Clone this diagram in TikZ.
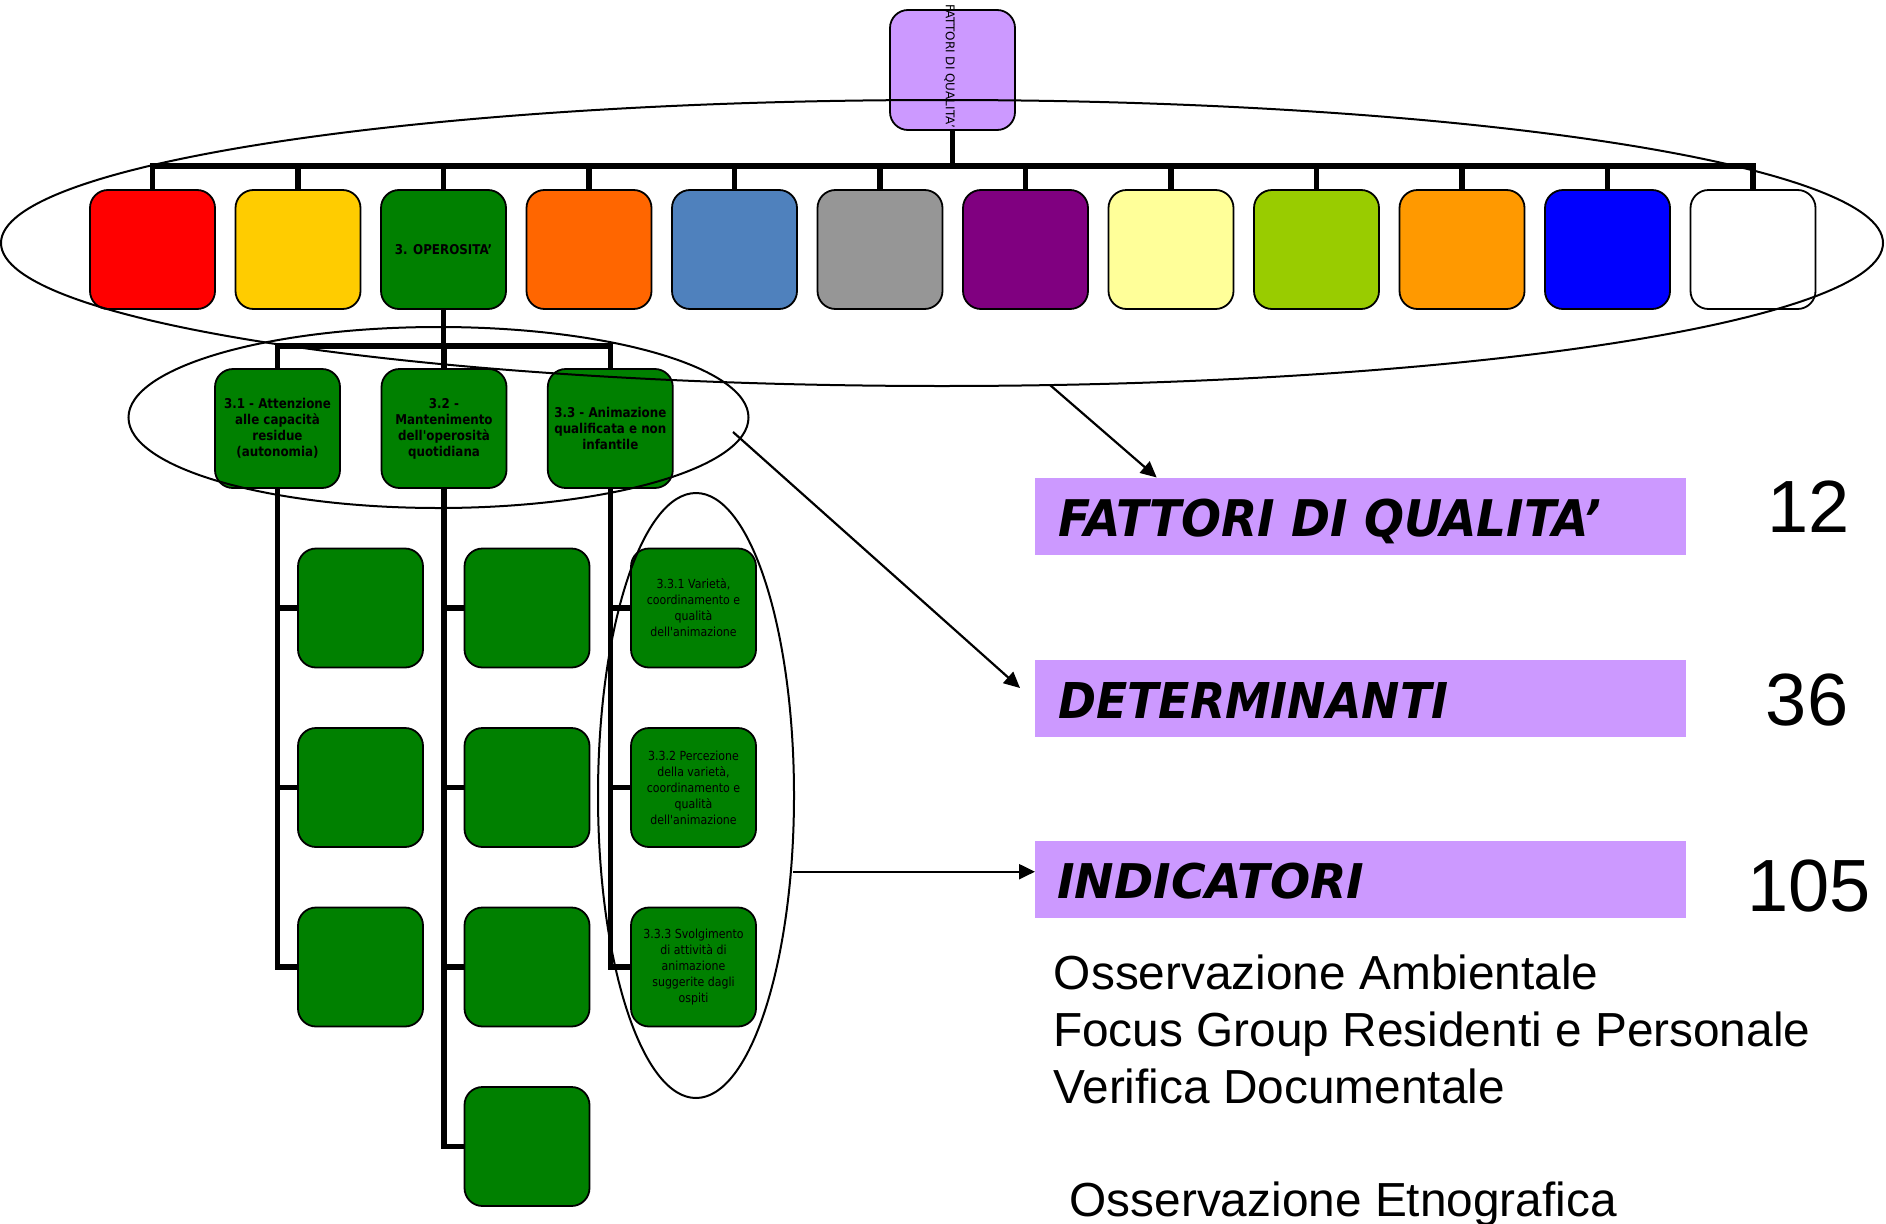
\documentclass[tikz,border=0pt]{standalone}
\usepackage{fontspec}
\usepackage{graphicx}
\usetikzlibrary{shapes.geometric,arrows.meta}
\newfontfamily\tahf[FakeStretch=0.88]{DejaVu Sans}
\newfontfamily\verdf{DejaVu Sans}
\newfontfamily\arialf{Liberation Sans}
\definecolor{cRed}{HTML}{FF0000}
\definecolor{cYellow}{HTML}{FFCC00}
\definecolor{cGreen}{HTML}{008000}
\definecolor{cOrange}{HTML}{FF6600}
\definecolor{cSteel}{HTML}{4F81BD}
\definecolor{cGray}{HTML}{969696}
\definecolor{cPurple}{HTML}{800080}
\definecolor{cLYellow}{HTML}{FFFF99}
\definecolor{cLime}{HTML}{99CC00}
\definecolor{cOrangeB}{HTML}{FF9900}
\definecolor{cBlue}{HTML}{0000FF}
\definecolor{lilac}{HTML}{CC99FF}
\pgfdeclarelayer{bg}
\pgfsetlayers{bg,main}
\begin{document}
\begin{tikzpicture}[x=1pt,y=-1pt,
  box/.style={draw=black, line width=1.8pt, rounded corners=18pt, minimum width=125pt, minimum height=119pt, inner sep=0pt, outer sep=0pt},
  conn/.style={line width=5.5pt},
  ell/.style={draw, ellipse, line width=2pt, inner sep=0pt, outer sep=0pt},
  arr/.style={line width=2.2pt, -{Triangle[length=16pt,width=15pt]}},
  bar/.style={fill=lilac, minimum width=651pt, minimum height=77pt, inner sep=0pt, outer sep=0pt},
  lvthree/.style={box, fill=cGreen, align=center, font=\tahf\bfseries\fontsize{13.5}{16}\selectfont},
  lvfour/.style={box, fill=cGreen, align=center, font=\tahf\fontsize{12.5}{16}\selectfont},
  body/.style={anchor=base west, inner sep=0pt, font=\arialf\fontsize{47.8}{57}\selectfont},
  num/.style={anchor=base, inner sep=0pt, font=\arialf\fontsize{74}{80}\selectfont},
  blab/.style={anchor=base west, inner sep=0pt}
]
\useasboundingbox (0,0) rectangle (1886,1223);

% top node
\node[box, fill=lilac, minimum height=120pt] (top) at (952.5,70) {};
\node[rotate=-90, anchor=west, inner sep=0pt, font=\verdf\fontsize{12}{14}\selectfont] (toplab) at (949.5,4) {FATTORI DI QUALITA’};

% level 2
\node[box, fill=cRed] (b0) at (152.5,249.5) {};
\node[box, fill=cYellow] (b1) at (298,249.5) {};
\node[box, fill=cGreen, font=\tahf\bfseries\fontsize{13.5}{16}\selectfont] (b2) at (443.5,249.5) {3. OPEROSITA’};
\node[box, fill=cOrange] (b3) at (589,249.5) {};
\node[box, fill=cSteel] (b4) at (734.5,249.5) {};
\node[box, fill=cGray] (b5) at (880,249.5) {};
\node[box, fill=cPurple] (b6) at (1025.5,249.5) {};
\node[box, fill=cLYellow] (b7) at (1171,249.5) {};
\node[box, fill=cLime] (b8) at (1316.5,249.5) {};
\node[box, fill=cOrangeB] (b9) at (1462,249.5) {};
\node[box, fill=cBlue] (b10) at (1607.5,249.5) {};
\node[box, fill=white] (b11) at (1753,249.5) {};

% level 3
\node[lvthree] (c1) at (277.5,428.5) {3.1 - Attenzione\\alle capacità\\residue\\(autonomia)};
\node[lvthree] (c2) at (444,428.5) {3.2 -\\Mantenimento\\dell'operosità\\quotidiana};
\node[lvthree] (c3) at (610.3,428.5) {3.3 - Animazione\\qualificata e non\\infantile};

% level 4
\node[lvfour] (d11) at (360.5,608) {};
\node[lvfour] (d12) at (360.5,787.5) {};
\node[lvfour] (d13) at (360.5,967) {};
\node[lvfour] (d21) at (527,608) {};
\node[lvfour] (d22) at (527,787.5) {};
\node[lvfour] (d23) at (527,967) {};
\node[lvfour] (d24) at (527,1146.5) {};
\node[lvfour] (d31) at (693.5,608) {3.3.1 Varietà,\\coordinamento e\\qualità\\dell'animazione};
\node[lvfour] (d32) at (693.5,787.5) {3.3.2 Percezione\\della varietà,\\coordinamento e\\qualità\\dell'animazione};
\node[lvfour] (d33) at (693.5,967) {3.3.3 Svolgimento\\di attività di\\animazione\\suggerite dagli\\ospiti};

% connectors
\begin{pgfonlayer}{bg}
\foreach \i in {0,...,11} \draw[conn] (top.south) -- ++(0,36) -| (b\i.north);
\foreach \j in {1,2,3} \draw[conn] (b2.south) -- ++(0,37) -| (c\j.north);
\foreach \k in {1,2,3} \draw[conn] (c1.south) |- (d1\k.west);
\foreach \k in {1,...,4} \draw[conn] (c2.south) |- (d2\k.west);
\foreach \k in {1,2,3} \draw[conn] (c3.south) |- (d3\k.west);
\end{pgfonlayer}

% ellipses
\node[ell, minimum width=1882pt, minimum height=286pt] (bigell) at (942,243) {};
\node[ell, minimum width=620pt, minimum height=181pt] (smallell) at (438.5,417.5) {};
\node[ell, minimum width=196pt, minimum height=605pt] (vertell) at (696,795.5) {};

% bars
\node[bar] (fq) at (1360.5,516.5) {};
\node[bar] (det) at (1360.5,698.5) {};
\node[bar] (ind) at (1360.5,879.5) {};
\node[blab] (fqlab) at (1058,536.7) {\resizebox{543pt}{37.5pt}{\verdf\bfseries\itshape FATTORI DI QUALITA’}};
\node[blab] (detlab) at (1058,718) {\resizebox{390pt}{36pt}{\verdf\bfseries\itshape DETERMINANTI}};
\node[blab] (indlab) at (1057,898.5) {\resizebox{307pt}{35.5pt}{\verdf\bfseries\itshape INDICATORI}};

% numbers
\node[num] (n1) at (1808.5,532.7) {12};
\node[num] (n2) at (1807,725.7) {36};
\node[num] (n3) at (1809,911.7) {105};

% body text
\node[body] (o1) at (1053.7,989.3) {Osservazione Ambientale};
\node[body] (o2) at (1053,1046.7) {Focus Group Residenti e Personale};
\node[body] (o3) at (1053,1103.3) {Verifica Documentale};
\node[body] (o4) at (1069.4,1216) {Osservazione Etnografica};

% arrows
\coordinate (a1s) at (1050,385);
\coordinate (a1e) at (1156.7,477.5);
\coordinate (a2s) at (733,432);
\coordinate (a2e) at (1020,688);
\coordinate (a3s) at (793,871.7);
\draw[arr] (a1s) -- (a1e);
\draw[arr] (a2s) -- (a2e);
\draw[arr] (a3s) -- (ind.west |- a3s);
\end{tikzpicture}
\end{document}
